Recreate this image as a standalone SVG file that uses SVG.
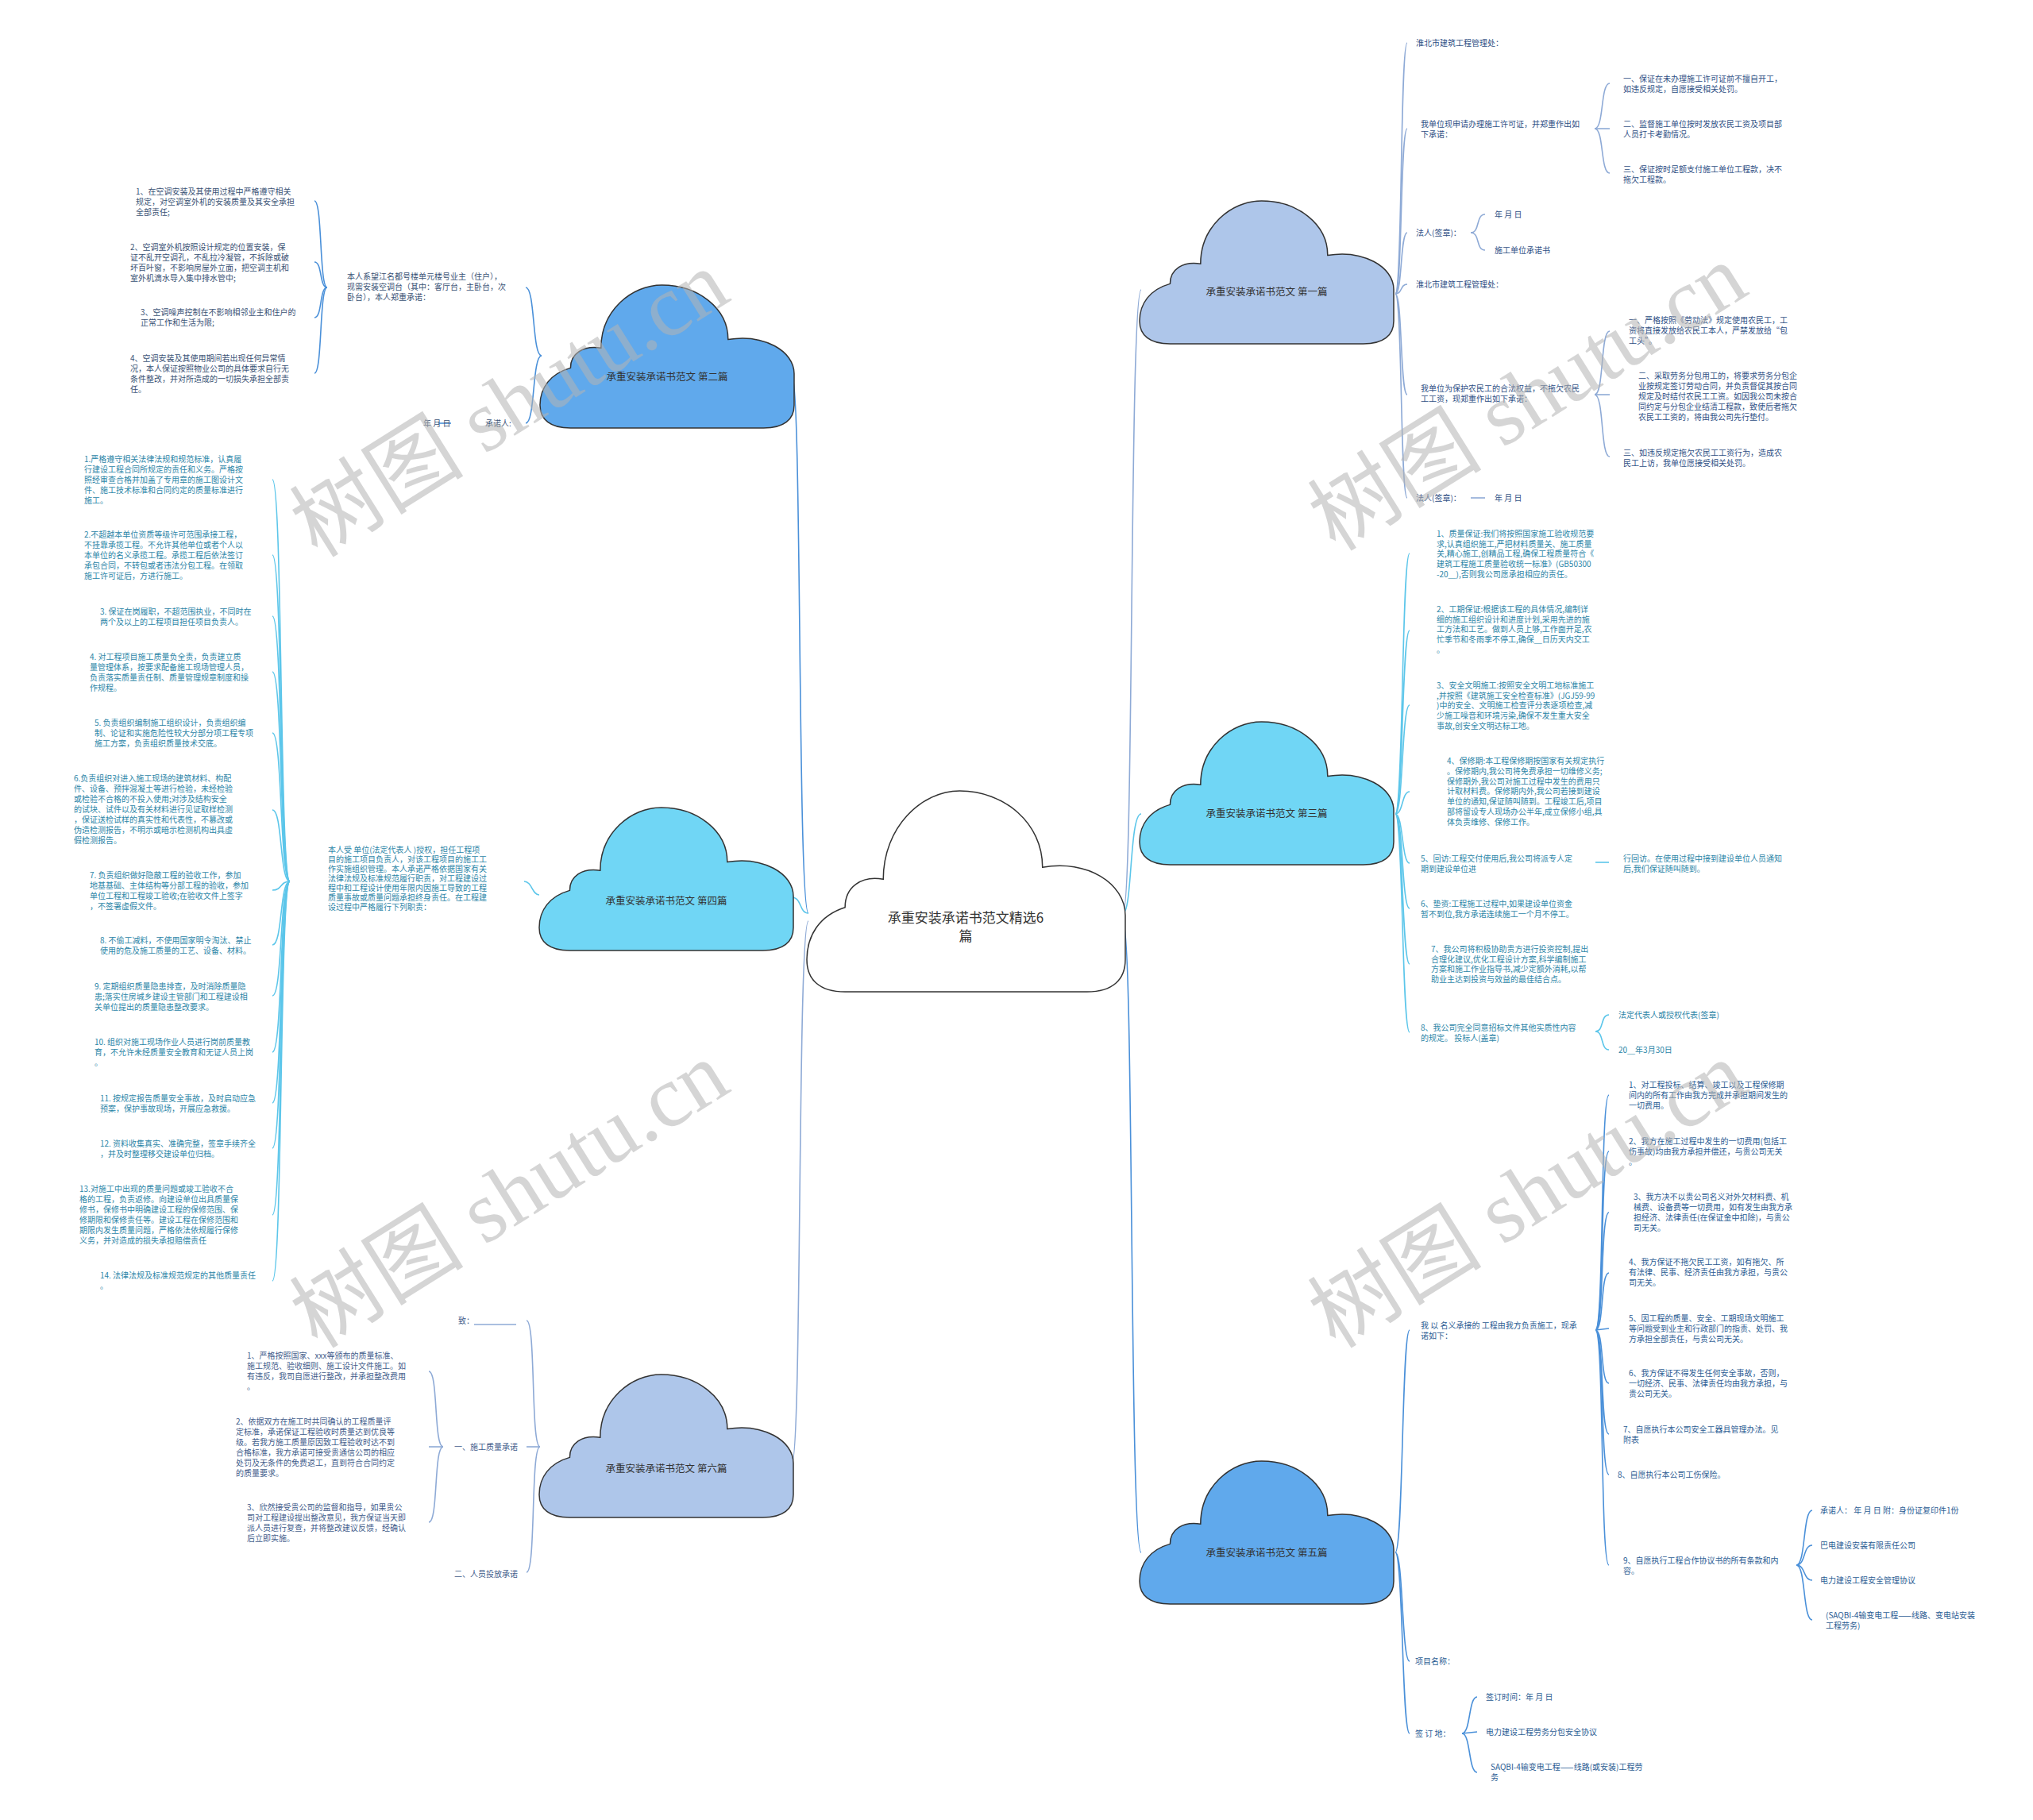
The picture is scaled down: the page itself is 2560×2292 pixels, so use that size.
<svg xmlns="http://www.w3.org/2000/svg" xmlns:xlink="http://www.w3.org/1999/xlink" width="2560" height="2292" viewBox="0 0 2560 2292">
<style>
text{font-family:"Noto Sans CJK SC","Noto Sans",sans-serif;}
.t{font-size:10px;}
.c1{fill:#2f4f85;}
.c2{fill:#3a5275;}
.c3{fill:#2d86a8;}
.c5{fill:#2c5d94;}
.c6{fill:#435d8c;}
.ct{font-size:12.5px;fill:#333;text-anchor:middle;}
.cc{font-size:17px;fill:#333;text-anchor:middle;}
.l1{fill:none;stroke:#8eaad6;stroke-width:1.6;}
.l2{fill:none;stroke:#4a90d9;stroke-width:1.6;}
.l3{fill:none;stroke:#5cc6ea;stroke-width:1.6;}
.l5{fill:none;stroke:#4a90d9;stroke-width:1.6;}
.l6{fill:none;stroke:#8eaad6;stroke-width:1.6;}
.cl{stroke:#333;stroke-width:1.5;}
.wm{font-family:"Liberation Serif","Noto Sans CJK SC",serif;font-size:110px;fill:#b4b4b4;opacity:0.55;text-anchor:middle;}
</style>
<defs>
<path id="cloud" vector-effect="non-scaling-stroke" d="M 12,100 C 4,100 0,94 0,84 C 0,72 4,62 12,58 C 12,48 17,42 24,44 C 24,18 36,0 48,0 C 62,0 74,16 74,38 C 88,34 100,46 100,62 L 100,84 C 100,94 96,100 88,100 Z"/>
</defs>
<rect width="2560" height="2292" fill="#fff"/>

<g id="connectors">
<!-- center to branches -->
<path class="l2" d="M 1018,1150 C 1004,1150 1010,471 997,471"/>
<path class="l3" d="M 1018,1150 C 1006,1150 1010,1130 997,1130"/>
<path class="l6" d="M 1018,1160 C 1004,1160 1010,1843 997,1843"/>
<path class="l1" d="M 1414,1150 C 1428,1150 1422,365 1437,365"/>
<path class="l3" d="M 1414,1150 C 1426,1150 1422,1025 1437,1025"/>
<path class="l5" d="M 1414,1160 C 1428,1160 1422,1955 1437,1955"/>

<!-- 第二篇 -->
<path class="l2" d="M 682,448 C 670,448 674,362 662,362"/>
<path class="l2" d="M 682,448 C 670,448 674,533 662,533"/>
<path class="l2" d="M 412,362 C 402,362 406,253 396,253"/>
<path class="l2" d="M 412,362 C 402,362 406,330 396,330"/>
<path class="l2" d="M 412,362 C 402,362 406,400 396,400"/>
<path class="l2" d="M 412,362 C 402,362 406,470 396,470"/>
<path class="l2" d="M 552,533 L 568,533"/>

<!-- 第四篇 -->
<path class="l3" d="M 679,1127 C 670,1127 670,1110 660,1110"/>
<path class="l3" d="M 365,1110 C 352,1110 356,604 343,604"/>
<path class="l3" d="M 365,1110 C 352,1110 356,699 343,699"/>
<path class="l3" d="M 365,1110 C 352,1110 356,776 343,776"/>
<path class="l3" d="M 365,1110 C 352,1110 356,846 343,846"/>
<path class="l3" d="M 365,1110 C 352,1110 356,923 343,923"/>
<path class="l3" d="M 365,1110 C 352,1110 356,1020 343,1020"/>
<path class="l3" d="M 365,1110 C 352,1110 356,1121 343,1121"/>
<path class="l3" d="M 365,1110 C 352,1110 356,1190 343,1190"/>
<path class="l3" d="M 365,1110 C 352,1110 356,1254 343,1254"/>
<path class="l3" d="M 365,1110 C 352,1110 356,1325 343,1325"/>
<path class="l3" d="M 365,1110 C 352,1110 356,1389 343,1389"/>
<path class="l3" d="M 365,1110 C 352,1110 356,1446 343,1446"/>
<path class="l3" d="M 365,1110 C 352,1110 356,1530 343,1530"/>
<path class="l3" d="M 365,1110 C 352,1110 356,1613 343,1613"/>

<!-- 第六篇 -->
<path class="l6" d="M 680,1822 C 668,1822 675,1663 663,1663"/>
<path class="l6" d="M 680,1822 L 663,1822"/>
<path class="l6" d="M 680,1822 C 668,1822 675,1980 663,1980"/>
<path class="l6" d="M 558,1822 C 546,1822 552,1727 540,1727"/>
<path class="l6" d="M 558,1822 L 540,1822"/>
<path class="l6" d="M 558,1822 C 546,1822 552,1917 540,1917"/>
<path class="l6" d="M 597,1668 L 650,1668"/>

<!-- 第一篇 -->
<path class="l1" d="M 1757,370 C 1766,370 1763,54 1772,54"/>
<path class="l1" d="M 1757,370 C 1766,370 1763,162 1772,162"/>
<path class="l1" d="M 1757,370 C 1766,370 1763,293 1772,293"/>
<path class="l1" d="M 1757,370 C 1766,370 1763,358 1772,358"/>
<path class="l1" d="M 1757,370 C 1766,370 1763,497 1772,497"/>
<path class="l1" d="M 1757,370 C 1766,370 1763,627 1772,627"/>
<path class="l1" d="M 2008,162 C 2020,162 2015,105 2027,105"/>
<path class="l1" d="M 2008,162 L 2027,162"/>
<path class="l1" d="M 2008,162 C 2020,162 2015,218 2027,218"/>
<path class="l1" d="M 1852,293 C 1864,293 1858,270 1870,270"/>
<path class="l1" d="M 1852,293 C 1864,293 1858,315 1870,315"/>
<path class="l1" d="M 2008,497 C 2020,497 2015,417 2027,417"/>
<path class="l1" d="M 2008,497 L 2027,497"/>
<path class="l1" d="M 2008,497 C 2020,497 2015,575 2027,575"/>
<path class="l1" d="M 1852,627 L 1870,627"/>

<!-- 第三篇 -->
<path class="l3" d="M 1757,1025 C 1767,1025 1765,697 1775,697"/>
<path class="l3" d="M 1757,1025 C 1767,1025 1765,794 1775,794"/>
<path class="l3" d="M 1757,1025 C 1767,1025 1765,888 1775,888"/>
<path class="l3" d="M 1757,1025 C 1767,1025 1765,997 1775,997"/>
<path class="l3" d="M 1757,1025 C 1767,1025 1765,1087 1775,1087"/>
<path class="l3" d="M 1757,1025 C 1767,1025 1765,1144 1775,1144"/>
<path class="l3" d="M 1757,1025 C 1767,1025 1765,1214 1775,1214"/>
<path class="l3" d="M 1757,1025 C 1767,1025 1765,1300 1775,1300"/>
<path class="l3" d="M 2009,1086 L 2026,1086"/>
<path class="l3" d="M 2009,1299 C 2020,1299 2015,1278 2026,1278"/>
<path class="l3" d="M 2009,1299 C 2020,1299 2015,1322 2026,1322"/>

<!-- 第五篇 -->
<path class="l5" d="M 1757,1955 C 1767,1955 1765,1675 1775,1675"/>
<path class="l5" d="M 1757,1955 C 1767,1955 1765,2092 1775,2092"/>
<path class="l5" d="M 1757,1955 C 1767,1955 1765,2183 1775,2183"/>
<path class="l5" d="M 2009,1675 C 2020,1675 2015,1379 2026,1379"/>
<path class="l5" d="M 2009,1675 C 2020,1675 2015,1450 2026,1450"/>
<path class="l5" d="M 2009,1675 C 2020,1675 2015,1527 2026,1527"/>
<path class="l5" d="M 2009,1675 C 2020,1675 2015,1603 2026,1603"/>
<path class="l5" d="M 2009,1675 L 2026,1673"/>
<path class="l5" d="M 2009,1675 C 2020,1675 2015,1742 2026,1742"/>
<path class="l5" d="M 2009,1675 C 2020,1675 2015,1806 2026,1806"/>
<path class="l5" d="M 2009,1675 C 2020,1675 2015,1857 2026,1857"/>
<path class="l5" d="M 2009,1675 C 2020,1675 2015,1971 2026,1971"/>
<path class="l5" d="M 2262,1971 C 2274,1971 2270,1902 2282,1902"/>
<path class="l5" d="M 2262,1971 C 2274,1971 2270,1946 2282,1946"/>
<path class="l5" d="M 2262,1971 C 2274,1971 2270,1990 2282,1990"/>
<path class="l5" d="M 2262,1971 C 2274,1971 2270,2040 2282,2040"/>
<path class="l5" d="M 1841,2183 C 1852,2183 1849,2137 1860,2137"/>
<path class="l5" d="M 1841,2183 L 1860,2181"/>
<path class="l5" d="M 1841,2183 C 1852,2183 1849,2232 1860,2232"/>
</g>

<g id="center">
<use xlink:href="#cloud" class="cl" fill="#ffffff" transform="translate(1016,996) scale(4.01,2.53)"/>
<text class="cc" x="1216" y="1162">承重安装承诺书范文精选6</text>
<text class="cc" x="1216" y="1185">篇</text>
</g>

<g id="b1">
<use xlink:href="#cloud" class="cl" fill="#aec6ea" transform="translate(1435,253) scale(3.2,1.8)"/>
<text class="ct" x="1595" y="372">承重安装承诺书范文 第一篇</text>
</g>
<g id="b2">
<use xlink:href="#cloud" class="cl" fill="#60a9ec" transform="translate(680,359) scale(3.2,1.8)"/>
<text class="ct" x="840" y="479">承重安装承诺书范文 第二篇</text>
</g>
<g id="b3">
<use xlink:href="#cloud" class="cl" fill="#70d6f5" transform="translate(1435,909) scale(3.2,1.8)"/>
<text class="ct" x="1595" y="1029">承重安装承诺书范文 第三篇</text>
</g>
<g id="b4">
<use xlink:href="#cloud" class="cl" fill="#70d6f5" transform="translate(679,1017) scale(3.2,1.8)"/>
<text class="ct" x="839" y="1139">承重安装承诺书范文 第四篇</text>
</g>
<g id="b5">
<use xlink:href="#cloud" class="cl" fill="#60a9ec" transform="translate(1435,1840) scale(3.2,1.8)"/>
<text class="ct" x="1595" y="1960">承重安装承诺书范文 第五篇</text>
</g>
<g id="b6">
<use xlink:href="#cloud" class="cl" fill="#aec6ea" transform="translate(679,1731) scale(3.2,1.8)"/>
<text class="ct" x="839" y="1854">承重安装承诺书范文 第六篇</text>
</g>

<!-- 第二篇 texts -->
<g id="n2">
<text class="t c2" x="171" y="245"><tspan x="171">1、在空调安装及其使用过程中严格遵守相关</tspan><tspan x="171" dy="13">规定，对空调室外机的安装质量及其安全承担</tspan><tspan x="171" dy="13">全部责任;</tspan></text>
<text class="t c2" x="164" y="315"><tspan x="164">2、空调室外机按照设计规定的位置安装，保</tspan><tspan x="164" dy="13">证不乱开空调孔，不乱拉冷凝管，不拆除或破</tspan><tspan x="164" dy="13">坏百叶窗，不影响房屋外立面，把空调主机和</tspan><tspan x="164" dy="13">室外机滴水导入集中排水管中;</tspan></text>
<text class="t c2" x="177" y="397"><tspan x="177">3、空调噪声控制在不影响相邻业主和住户的</tspan><tspan x="177" dy="13">正常工作和生活为限;</tspan></text>
<text class="t c2" x="164" y="455"><tspan x="164">4、空调安装及其使用期间若出现任何异常情</tspan><tspan x="164" dy="13">况，本人保证按照物业公司的具体要求自行无</tspan><tspan x="164" dy="13">条件整改，并对所造成的一切损失承担全部责</tspan><tspan x="164" dy="13">任。</tspan></text>
<text class="t c2" x="437" y="352"><tspan x="437">本人系望江名都号楼单元楼号业主（住户），</tspan><tspan x="437" dy="13">现需安装空调台（其中：客厅台，主卧台，次</tspan><tspan x="437" dy="13">卧台），本人郑重承诺：</tspan></text>
<text class="t c2" x="533" y="537">年 月 日</text>
<text class="t c2" x="611" y="537">承诺人:</text>
</g>

<!-- 第四篇 texts -->
<g id="n4">
<text class="t c3" x="413" y="1074"><tspan x="413">本人受 单位(法定代表人 )授权，担任工程项</tspan><tspan x="413" dy="12">目的施工项目负责人，对该工程项目的施工工</tspan><tspan x="413" dy="12">作实施组织管理。本人承诺严格依据国家有关</tspan><tspan x="413" dy="12">法律法规及标准规范履行职责，对工程建设过</tspan><tspan x="413" dy="12">程中和工程设计使用年限内因施工导致的工程</tspan><tspan x="413" dy="12">质量事故或质量问题承担终身责任。在工程建</tspan><tspan x="413" dy="12">设过程中严格履行下列职责：</tspan></text>
<text class="t c3" x="106" y="582"><tspan x="106">1.严格遵守相关法律法规和规范标准，认真履</tspan><tspan x="106" dy="13">行建设工程合同所规定的责任和义务。严格按</tspan><tspan x="106" dy="13">照经审查合格并加盖了专用章的施工图设计文</tspan><tspan x="106" dy="13">件、施工技术标准和合同约定的质量标准进行</tspan><tspan x="106" dy="13">施工。</tspan></text>
<text class="t c3" x="106" y="677"><tspan x="106">2.不超越本单位资质等级许可范围承接工程，</tspan><tspan x="106" dy="13">不挂靠承揽工程。不允许其他单位或者个人以</tspan><tspan x="106" dy="13">本单位的名义承揽工程。承揽工程后依法签订</tspan><tspan x="106" dy="13">承包合同，不转包或者违法分包工程。在领取</tspan><tspan x="106" dy="13">施工许可证后，方进行施工。</tspan></text>
<text class="t c3" x="126" y="774"><tspan x="126">3. 保证在岗履职，不超范围执业，不同时在</tspan><tspan x="126" dy="13">两个及以上的工程项目担任项目负责人。</tspan></text>
<text class="t c3" x="113" y="831"><tspan x="113">4. 对工程项目施工质量负全责，负责建立质</tspan><tspan x="113" dy="13">量管理体系，按要求配备施工现场管理人员，</tspan><tspan x="113" dy="13">负责落实质量责任制、质量管理规章制度和操</tspan><tspan x="113" dy="13">作规程。</tspan></text>
<text class="t c3" x="119" y="914"><tspan x="119">5. 负责组织编制施工组织设计，负责组织编</tspan><tspan x="119" dy="13">制、论证和实施危险性较大分部分项工程专项</tspan><tspan x="119" dy="13">施工方案，负责组织质量技术交底。</tspan></text>
<text class="t c3" x="93" y="984"><tspan x="93">6.负责组织对进入施工现场的建筑材料、构配</tspan><tspan x="93" dy="13">件、设备、预拌混凝土等进行检验，未经检验</tspan><tspan x="93" dy="13">或检验不合格的不投入使用;对涉及结构安全</tspan><tspan x="93" dy="13">的试块、试件以及有关材料进行见证取样检测</tspan><tspan x="93" dy="13">，保证送检试样的真实性和代表性，不篡改或</tspan><tspan x="93" dy="13">伪造检测报告，不明示或暗示检测机构出具虚</tspan><tspan x="93" dy="13">假检测报告。</tspan></text>
<text class="t c3" x="113" y="1106"><tspan x="113">7. 负责组织做好隐蔽工程的验收工作，参加</tspan><tspan x="113" dy="13">地基基础、主体结构等分部工程的验收，参加</tspan><tspan x="113" dy="13">单位工程和工程竣工验收;在验收文件上签字</tspan><tspan x="113" dy="13">，不签署虚假文件。</tspan></text>
<text class="t c3" x="126" y="1188"><tspan x="126">8. 不偷工减料，不使用国家明令淘汰、禁止</tspan><tspan x="126" dy="13">使用的危及施工质量的工艺、设备、材料。</tspan></text>
<text class="t c3" x="119" y="1246"><tspan x="119">9. 定期组织质量隐患排查，及时消除质量隐</tspan><tspan x="119" dy="13">患;落实住房城乡建设主管部门和工程建设相</tspan><tspan x="119" dy="13">关单位提出的质量隐患整改要求。</tspan></text>
<text class="t c3" x="119" y="1316"><tspan x="119">10. 组织对施工现场作业人员进行岗前质量教</tspan><tspan x="119" dy="13">育，不允许未经质量安全教育和无证人员上岗</tspan><tspan x="119" dy="13">。</tspan></text>
<text class="t c3" x="126" y="1387"><tspan x="126">11. 按规定报告质量安全事故，及时启动应急</tspan><tspan x="126" dy="13">预案，保护事故现场，开展应急救援。</tspan></text>
<text class="t c3" x="126" y="1444"><tspan x="126">12. 资料收集真实、准确完整，签章手续齐全</tspan><tspan x="126" dy="13">，并及时整理移交建设单位归档。</tspan></text>
<text class="t c3" x="100" y="1501"><tspan x="100">13.对施工中出现的质量问题或竣工验收不合</tspan><tspan x="100" dy="13">格的工程，负责返修。向建设单位出具质量保</tspan><tspan x="100" dy="13">修书，保修书中明确建设工程的保修范围、保</tspan><tspan x="100" dy="13">修期限和保修责任等。建设工程在保修范围和</tspan><tspan x="100" dy="13">期限内发生质量问题，严格依法依规履行保修</tspan><tspan x="100" dy="13">义务，并对造成的损失承担赔偿责任</tspan></text>
<text class="t c3" x="126" y="1610"><tspan x="126">14. 法律法规及标准规范规定的其他质量责任</tspan><tspan x="126" dy="13">。</tspan></text>
</g>

<!-- 第六篇 texts -->
<g id="n6">
<text class="t c6" x="577" y="1667">致：</text>
<text class="t c6" x="572" y="1826">一、施工质量承诺</text>
<text class="t c6" x="572" y="1986">二、人员投放承诺</text>
<text class="t c6" x="311" y="1711"><tspan x="311">1、严格按照国家、xxx等颁布的质量标准、</tspan><tspan x="311" dy="13">施工规范、验收细则、施工设计文件施工。如</tspan><tspan x="311" dy="13">有违反，我司自愿进行整改，并承担整改费用</tspan><tspan x="311" dy="13">。</tspan></text>
<text class="t c6" x="297" y="1794"><tspan x="297">2、依据双方在施工时共同确认的工程质量评</tspan><tspan x="297" dy="13">定标准，承诺保证工程验收时质量达到优良等</tspan><tspan x="297" dy="13">级。若我方施工质量原因致工程验收时达不到</tspan><tspan x="297" dy="13">合格标准，我方承诺可接受贵通信公司的相应</tspan><tspan x="297" dy="13">处罚及无条件的免费返工，直到符合合同约定</tspan><tspan x="297" dy="13">的质量要求。</tspan></text>
<text class="t c6" x="311" y="1902"><tspan x="311">3、欣然接受贵公司的监督和指导，如果贵公</tspan><tspan x="311" dy="13">司对工程建设提出整改意见，我方保证当天即</tspan><tspan x="311" dy="13">派人员进行复查，并将整改建议反馈，经确认</tspan><tspan x="311" dy="13">后立即实施。</tspan></text>
</g>

<!-- 第一篇 texts -->
<g id="n1">
<text class="t c1" x="1783" y="58">淮北市建筑工程管理处：</text>
<text class="t c1" x="1789" y="160"><tspan x="1789">我单位现申请办理施工许可证，并郑重作出如</tspan><tspan x="1789" dy="13">下承诺：</tspan></text>
<text class="t c1" x="2044" y="103"><tspan x="2044">一、保证在未办理施工许可证前不擅自开工，</tspan><tspan x="2044" dy="13">如违反规定，自愿接受相关处罚。</tspan></text>
<text class="t c1" x="2044" y="160"><tspan x="2044">二、监督施工单位按时发放农民工资及项目部</tspan><tspan x="2044" dy="13">人员打卡考勤情况。</tspan></text>
<text class="t c1" x="2044" y="217"><tspan x="2044">三、保证按时足额支付施工单位工程款，决不</tspan><tspan x="2044" dy="13">拖欠工程款。</tspan></text>
<text class="t c1" x="1783" y="297">法人(签章)：</text>
<text class="t c1" x="1882" y="274">年 月 日</text>
<text class="t c1" x="1882" y="319">施工单位承诺书</text>
<text class="t c1" x="1783" y="362">淮北市建筑工程管理处：</text>
<text class="t c1" x="1789" y="493"><tspan x="1789">我单位为保护农民工的合法权益，不拖欠农民</tspan><tspan x="1789" dy="13">工工资，现郑重作出如下承诺：</tspan></text>
<text class="t c1" x="2051" y="407"><tspan x="2051">一、严格按照《劳动法》规定使用农民工，工</tspan><tspan x="2051" dy="13">资将直接发放给农民工本人，严禁发放给“包</tspan><tspan x="2051" dy="13">工头”。</tspan></text>
<text class="t c1" x="2063" y="477"><tspan x="2063">二、采取劳务分包用工的，将要求劳务分包企</tspan><tspan x="2063" dy="13">业按规定签订劳动合同，并负责督促其按合同</tspan><tspan x="2063" dy="13">规定及时结付农民工工资。如因我公司未按合</tspan><tspan x="2063" dy="13">同约定与分包企业结清工程款，致使后者拖欠</tspan><tspan x="2063" dy="13">农民工工资的，将由我公司先行垫付。</tspan></text>
<text class="t c1" x="2044" y="574"><tspan x="2044">三、如违反规定拖欠农民工工资行为，造成农</tspan><tspan x="2044" dy="13">民工上访，我单位愿接受相关处罚。</tspan></text>
<text class="t c1" x="1783" y="631">法人(签章)：</text>
<text class="t c1" x="1882" y="631">年 月 日</text>
</g>

<!-- 第三篇 texts -->
<g id="n3">
<text class="t c3" x="1809" y="676"><tspan x="1809">1、质量保证:我们将按照国家施工验收规范要</tspan><tspan x="1809" dy="12.7">求,认真组织施工,严把材料质量关、施工质量</tspan><tspan x="1809" dy="12.7">关,精心施工,创精品工程,确保工程质量符合《</tspan><tspan x="1809" dy="12.7">建筑工程施工质量验收统一标准》(GB50300</tspan><tspan x="1809" dy="12.7">-20＿),否则我公司愿承担相应的责任。</tspan></text>
<text class="t c3" x="1809" y="771"><tspan x="1809">2、工期保证:根据该工程的具体情况,编制详</tspan><tspan x="1809" dy="12.7">细的施工组织设计和进度计划,采用先进的施</tspan><tspan x="1809" dy="12.7">工方法和工艺。做到人员上够,工作面开足,农</tspan><tspan x="1809" dy="12.7">忙季节和冬雨季不停工,确保＿日历天内交工</tspan><tspan x="1809" dy="12.7">。</tspan></text>
<text class="t c3" x="1809" y="867"><tspan x="1809">3、安全文明施工:按照安全文明工地标准施工</tspan><tspan x="1809" dy="12.7">,并按照《建筑施工安全检查标准》(JGJ59-99</tspan><tspan x="1809" dy="12.7">)中的安全、文明施工检查评分表逐项检查,减</tspan><tspan x="1809" dy="12.7">少施工噪音和环境污染,确保不发生重大安全</tspan><tspan x="1809" dy="12.7">事故,创安全文明达标工地。</tspan></text>
<text class="t c3" x="1822" y="962"><tspan x="1822">4、保修期:本工程保修期按国家有关规定执行</tspan><tspan x="1822" dy="12.8">。保修期内,我公司将免费承担一切维修义务;</tspan><tspan x="1822" dy="12.8">保修期外,我公司对施工过程中发生的费用只</tspan><tspan x="1822" dy="12.8">计取材料费。保修期内外,我公司若接到建设</tspan><tspan x="1822" dy="12.8">单位的通知,保证随叫随到。工程竣工后,项目</tspan><tspan x="1822" dy="12.8">部将留设专人现场办公半年,成立保修小组,具</tspan><tspan x="1822" dy="12.8">体负责维修、保修工作。</tspan></text>
<text class="t c3" x="1789" y="1085"><tspan x="1789">5、回访:工程交付使用后,我公司将派专人定</tspan><tspan x="1789" dy="12.7">期到建设单位进</tspan></text>
<text class="t c3" x="2044" y="1085"><tspan x="2044">行回访。在使用过程中接到建设单位人员通知</tspan><tspan x="2044" dy="12.7">后,我们保证随叫随到。</tspan></text>
<text class="t c3" x="1789" y="1142"><tspan x="1789">6、垫资:工程施工过程中,如果建设单位资金</tspan><tspan x="1789" dy="12.7">暂不到位,我方承诺连续施工一个月不停工。</tspan></text>
<text class="t c3" x="1802" y="1199"><tspan x="1802">7、我公司将积极协助贵方进行投资控制,提出</tspan><tspan x="1802" dy="12.7">合理化建议,优化工程设计方案,科学编制施工</tspan><tspan x="1802" dy="12.7">方案和施工作业指导书,减少定额外消耗,以帮</tspan><tspan x="1802" dy="12.7">助业主达到投资与效益的最佳结合点。</tspan></text>
<text class="t c3" x="1789" y="1298"><tspan x="1789">8、我公司完全同意招标文件其他实质性内容</tspan><tspan x="1789" dy="12.7">的规定。 投标人(盖章)</tspan></text>
<text class="t c3" x="2038" y="1282">法定代表人或授权代表(签章)</text>
<text class="t c3" x="2038" y="1326">20＿年3月30日</text>
</g>

<!-- 第五篇 texts -->
<g id="n5">
<text class="t c5" x="1789" y="1673"><tspan x="1789">我 以 名义承接的 工程由我方负责施工，现承</tspan><tspan x="1789" dy="13">诺如下：</tspan></text>
<text class="t c5" x="2051" y="1370"><tspan x="2051">1、对工程投标、结算、竣工以及工程保修期</tspan><tspan x="2051" dy="13">间内的所有工作由我方完成并承担期间发生的</tspan><tspan x="2051" dy="13">一切费用。</tspan></text>
<text class="t c5" x="2051" y="1441"><tspan x="2051">2、我方在施工过程中发生的一切费用(包括工</tspan><tspan x="2051" dy="13">伤事故)均由我方承担并偿还，与贵公司无关</tspan><tspan x="2051" dy="13">。</tspan></text>
<text class="t c5" x="2057" y="1511"><tspan x="2057">3、我方决不以贵公司名义对外欠材料费、机</tspan><tspan x="2057" dy="13">械费、设备费等一切费用，如有发生由我方承</tspan><tspan x="2057" dy="13">担经济、法律责任(在保证金中扣除)，与贵公</tspan><tspan x="2057" dy="13">司无关。</tspan></text>
<text class="t c5" x="2051" y="1593"><tspan x="2051">4、我方保证不拖欠民工工资，如有拖欠、所</tspan><tspan x="2051" dy="13">有法律、民事、经济责任由我方承担，与贵公</tspan><tspan x="2051" dy="13">司无关。</tspan></text>
<text class="t c5" x="2051" y="1664"><tspan x="2051">5、因工程的质量、安全、工期现场文明施工</tspan><tspan x="2051" dy="13">等问题受到业主和行政部门的指责、处罚、我</tspan><tspan x="2051" dy="13">方承担全部责任，与贵公司无关。</tspan></text>
<text class="t c5" x="2051" y="1733"><tspan x="2051">6、我方保证不得发生任何安全事故，否则，</tspan><tspan x="2051" dy="13">一切经济、民事、法律责任均由我方承担，与</tspan><tspan x="2051" dy="13">贵公司无关。</tspan></text>
<text class="t c5" x="2044" y="1804"><tspan x="2044">7、自愿执行本公司安全工器具管理办法。见</tspan><tspan x="2044" dy="13">附表</tspan></text>
<text class="t c5" x="2037" y="1861">8、自愿执行本公司工伤保险。</text>
<text class="t c5" x="2044" y="1969"><tspan x="2044">9、自愿执行工程合作协议书的所有条款和内</tspan><tspan x="2044" dy="13">容。</tspan></text>
<text class="t c5" x="2292" y="1906">承诺人：  年 月 日 附：身份证复印件1份</text>
<text class="t c5" x="2292" y="1950">巴电建设安装有限责任公司</text>
<text class="t c5" x="2292" y="1994">电力建设工程安全管理协议</text>
<text class="t c5" x="2299" y="2038"><tspan x="2299">(SAQBI-4输变电工程——线路、变电站安装</tspan><tspan x="2299" dy="13">工程劳务)</tspan></text>
<text class="t c5" x="1782" y="2096">项目名称：</text>
<text class="t c5" x="1782" y="2187">签 订 地：</text>
<text class="t c5" x="1871" y="2141">签订时间：年 月 日</text>
<text class="t c5" x="1871" y="2185">电力建设工程劳务分包安全协议</text>
<text class="t c5" x="1877" y="2229"><tspan x="1877">SAQBI-4输变电工程——线路(或安装)工程劳</tspan><tspan x="1877" dy="13">务</tspan></text>
</g>

<g id="watermark">
<text class="wm" x="645" y="545" transform="rotate(-32 645 514)">树图 shutu.cn</text>
<text class="wm" x="1927" y="537" transform="rotate(-32 1927 506)">树图 shutu.cn</text>
<text class="wm" x="645" y="1541" transform="rotate(-32 645 1510)">树图 shutu.cn</text>
<text class="wm" x="1927" y="1541" transform="rotate(-32 1927 1510)">树图 shutu.cn</text>
</g>
</svg>
